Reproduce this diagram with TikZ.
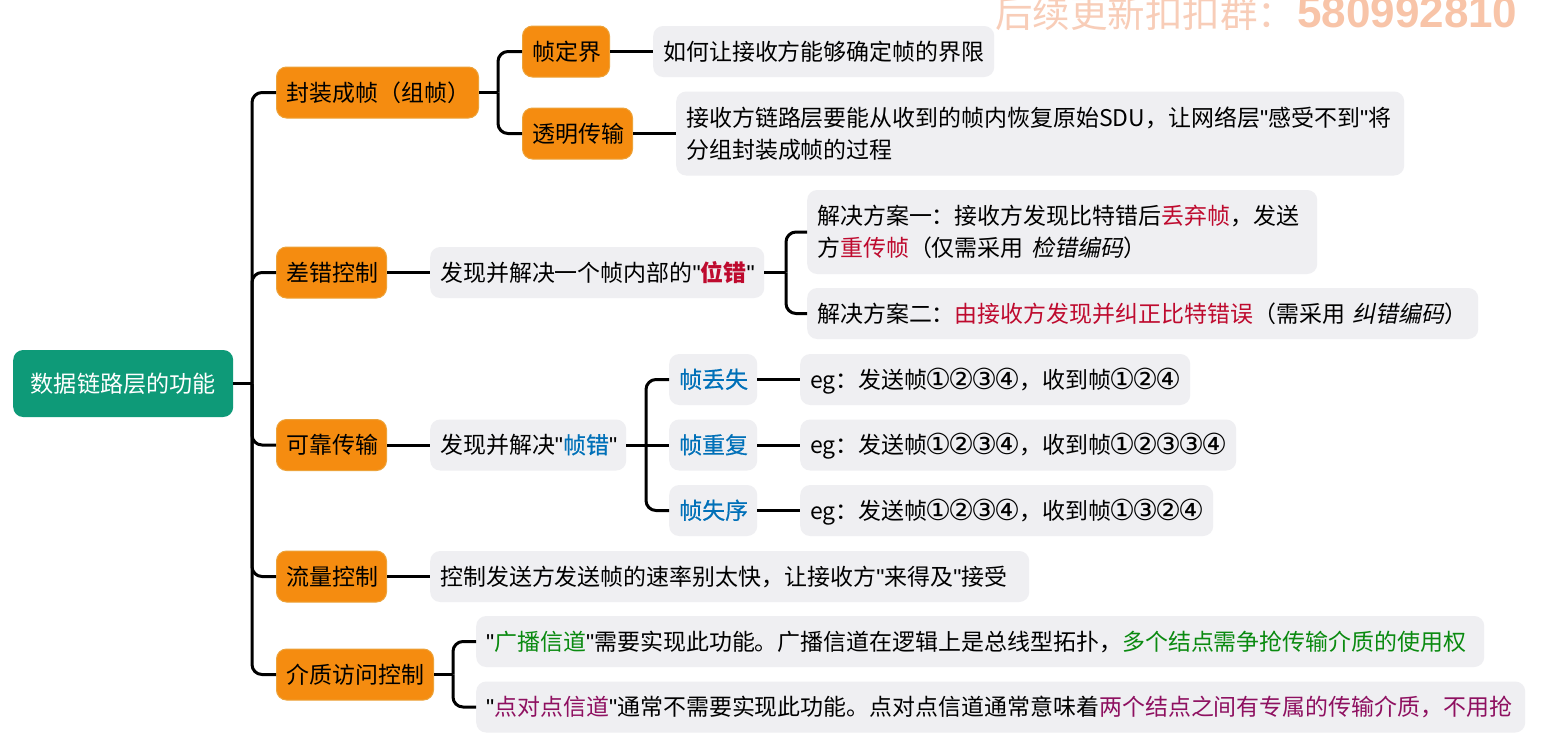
\documentclass[tikz,border=0pt]{standalone}
\usepackage{fontspec}
\setmainfont{Noto Sans CJK SC}
\newfontfamily\slantcjk[FakeSlant=0.2]{Noto Sans CJK SC}
\newfontfamily\heavycjk[FakeBold=0.5]{Noto Sans CJK SC}
\newfontfamily\latinbold{Liberation Sans}
\newfontfamily\circfont{DejaVu Sans}
\newcommand{\quo}{{\latinbold"}}
\newcommand{\cn}[1]{\makebox[22.95pt][c]{\circfont\fontsize{29}{32}\selectfont\raisebox{-1pt}{#1}}}
\newcommand{\ca}{\cn{①}}
\newcommand{\cb}{\cn{②}}
\newcommand{\cc}{\cn{③}}
\newcommand{\cd}{\cn{④}}
\definecolor{tealroot}{HTML}{0E9A78}
\definecolor{orangefill}{HTML}{F58C10}
\definecolor{orangeline}{HTML}{EDA33A}
\definecolor{grayfill}{HTML}{EFEFF2}
\definecolor{redtxt}{HTML}{BE0A2E}
\definecolor{bluetxt}{HTML}{0070B8}
\definecolor{greentxt}{HTML}{0A8A10}
\definecolor{magtxt}{HTML}{8E1060}
\definecolor{marktxt}{HTML}{F8CDB8}
\definecolor{markdigit}{HTML}{F8C4A8}
\newcommand{\rd}[1]{\textcolor{redtxt}{#1}}
\newcommand{\bl}[1]{\textcolor{bluetxt}{{\heavycjk #1}}}
\newcommand{\gr}[1]{\textcolor{greentxt}{#1}}
\newcommand{\mg}[1]{\textcolor{magtxt}{#1}}
\tikzset{
  basebox/.style={anchor=west,rounded corners=10pt,inner xsep=10pt,inner ysep=0pt,
    align=left,font=\fontsize{22.95}{32}\selectfont,minimum height=51pt,text height=22pt,text depth=5pt},
  orangebox/.style={basebox,fill=orangefill,draw=orangeline,line width=1pt,text width={#1*1pt-20pt}},
  graybox/.style={basebox,fill=grayfill,text width={#1*1pt-20pt}},
  twoline/.style={text height=,text depth=,minimum height=84pt},
  conn/.style={draw=black,line width=3pt,rounded corners=10pt},
}
\begin{document}
\begin{tikzpicture}[x=1pt,y=-1pt]
\useasboundingbox (0,0) rectangle (1544,750);
\fill[white] (0,0) rectangle (1544,750);
% watermark
\node[anchor=west,inner sep=0pt,text=marktxt,font=\fontsize{37.5}{40}\selectfont] (wm1) at (995,13) {后续更新扣扣群：};
\node[anchor=west,inner sep=0pt,text=markdigit,font=\latinbold\fontsize{44}{46}\selectfont\bfseries] (wm2) at (1297,12) {580992810};
% root
\node[anchor=west,rounded corners=10pt,fill=tealroot,text=white,minimum width=220pt,minimum height=67pt,inner sep=0pt,font=\fontsize{23.1}{30}\selectfont] (root) at (13,383.5) {数据链路层的功能};
% level 1
\node[orangebox=202] (a) at (276,92.5) {封装成帧（组帧）};
\node[orangebox=110] (b) at (276,272.5) {差错控制};
\node[orangebox=110] (c) at (276,445) {可靠传输};
\node[orangebox=110] (d) at (276,576.5) {流量控制};
\node[orangebox=157] (e) at (276,674.5) {介质访问控制};
% branch a
\node[orangebox=87] (a1) at (522,51.5) {帧定界};
\node[orangebox=110] (a2) at (522,133.5) {透明传输};
\node[graybox=341] (a1t) at (653,51.5) {如何让接收方能够确定帧的界限};
\node[graybox=728,twoline] (a2t) at (676,133.5) {接收方链路层要能从收到的帧内恢复原始SDU，让网络层\quo 感受不到\quo 将\\分组封装成帧的过程};
% branch b
\node[graybox=334] (bt) at (430,272.5) {发现并解决一个帧内部的\quo\textcolor{redtxt}{\bfseries 位错}\quo};
\node[graybox=510,twoline] (b1) at (807,232) {解决方案一：接收方发现比特错后\rd{丢弃帧}，发送\\方\rd{重传帧}（仅需采用 {\slantcjk 检错编码}）};
\node[graybox=671] (b2) at (807,313.5) {解决方案二：\rd{由接收方发现并纠正比特错误}（需采用 {\slantcjk 纠错编码}）};
% branch c
\node[graybox=196] (ct) at (430,445) {发现并解决\quo\bl{帧错}\quo};
\node[graybox=88] (c1) at (669,379.5) {\bl{帧丢失}};
\node[graybox=88] (c2) at (669,445) {\bl{帧重复}};
\node[graybox=88] (c3) at (669,510.5) {\bl{帧失序}};
\node[graybox=390] (c1t) at (800,379.5) {eg：发送帧\ca\cb\cc\cd，收到帧\ca\cb\cd};
\node[graybox=436] (c2t) at (800,445) {eg：发送帧\ca\cb\cc\cd，收到帧\ca\cb\cc\cc\cd};
\node[graybox=413] (c3t) at (800,510.5) {eg：发送帧\ca\cb\cc\cd，收到帧\ca\cc\cb\cd};
% branch d
\node[graybox=599] (dt) at (430,576.5) {控制发送方发送帧的速率别太快，让接收方\quo 来得及\quo 接受};
% branch e
\node[graybox=1008] (e1) at (476,641.5) {\quo\gr{广播信道}\quo 需要实现此功能。广播信道在逻辑上是总线型拓扑，\gr{多个结点需争抢传输介质的使用权}};
\node[graybox=1049] (e2) at (476,707) {\quo\mg{点对点信道}\quo 通常不需要实现此功能。点对点信道通常意味着\mg{两个结点之间有专属的传输介质，不用抢}};
% junctions
\coordinate (jr) at (252,383.5);
\coordinate (ja) at (498,92.5);
\coordinate (jb) at (786,272.5);
\coordinate (jc) at (646,445);
\coordinate (je) at (453,674.5);
% connectors
\draw[conn] (root.east) -- (jr);
\draw[conn] (jr) |- (a.west);
\draw[conn] (jr) |- (b.west);
\draw[conn] (jr) |- (c.west);
\draw[conn] (jr) |- (d.west);
\draw[conn] (jr) |- (e.west);
\draw[conn] (a.east) -- (ja);
\draw[conn] (ja) |- (a1.west);
\draw[conn] (ja) |- (a2.west);
\draw[conn] (a1.east) -- (a1t.west);
\draw[conn] (a2.east) -- (a2t.west);
\draw[conn] (b.east) -- (bt.west);
\draw[conn] (bt.east) -- (jb);
\draw[conn] (jb) |- (b1.west);
\draw[conn] (jb) |- (b2.west);
\draw[conn] (c.east) -- (ct.west);
\draw[conn] (ct.east) -- (c2.west);
\draw[conn] (jc) |- (c1.west);
\draw[conn] (jc) |- (c3.west);
\draw[conn] (c1.east) -- (c1t.west);
\draw[conn] (c2.east) -- (c2t.west);
\draw[conn] (c3.east) -- (c3t.west);
\draw[conn] (d.east) -- (dt.west);
\draw[conn] (e.east) -- (je);
\draw[conn] (je) |- (e1.west);
\draw[conn] (je) |- (e2.west);
\end{tikzpicture}
\end{document}
